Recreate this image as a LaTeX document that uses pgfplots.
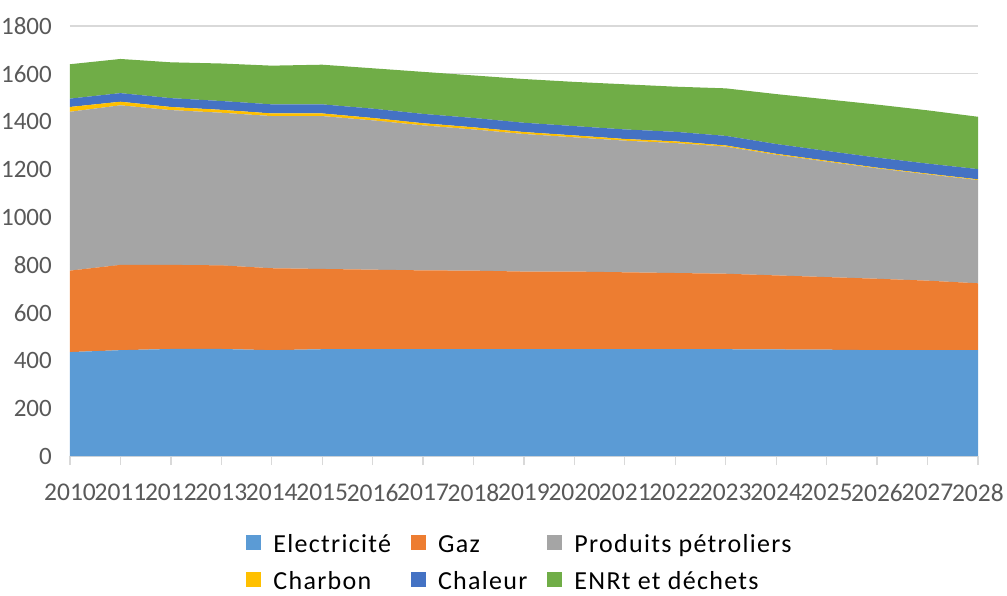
\documentclass[border=0pt]{standalone}
\usepackage{pgfplots}
\pgfplotsset{compat=1.18}
\usepackage{fontspec}
\setmainfont{Carlito}
\newfontfamily\legfont[LetterSpace=5]{Carlito}
\definecolor{cElec}{HTML}{5B9BD5}
\definecolor{cGaz}{HTML}{ED7D31}
\definecolor{cPet}{HTML}{A5A5A5}
\definecolor{cChar}{HTML}{FFC000}
\definecolor{cChal}{HTML}{4472C4}
\definecolor{cEnr}{HTML}{70AD47}
\definecolor{cGrid}{HTML}{D9D9D9}
\definecolor{cTxt}{HTML}{595959}
\begin{document}
\begin{tikzpicture}
\path[use as bounding box] (-70pt,-139pt) rectangle (937pt,456pt);
\begin{axis}[
  at={(0pt,0pt)}, anchor=south west,
  width=908pt, height=430pt, scale only axis,
  xmin=2010, xmax=2028, ymin=0, ymax=1800,
  stack plots=y,
  axis lines=left,
  x axis line style={draw=cGrid, line width=1.3pt, -},
  y axis line style={draw=none},
  xtick={2010,...,2028},
  xticklabels={2010,2011,2012,2013,2014,2015,2016,2017,2018,2019,2020,2021,2022,2023,2024,2025,2026,2027,2028},
  ytick={0,200,...,1800},
  /pgf/number format/1000 sep={},
  /pgf/number format/assume math mode=true,
  tick label style={font=\fontsize{25}{30}\selectfont, text=cTxt, inner sep=0pt},
  xticklabel style={anchor=north, yshift=-19pt, font=\fontsize{25.5}{30}\selectfont},
  yticklabel style={anchor=east, xshift=-9pt},
  x tick style={draw=cGrid, line width=1.3pt},
  y tick style={draw=none},
  major tick length=9pt,
  tick align=outside,
  xtick pos=bottom,
  ymajorgrids,
  grid style={draw=cGrid, line width=1.3pt},
  legend columns=3,
  legend cell align=left,
  legend style={at={(0.4945,-0.177)}, anchor=north, draw=none, fill=none,
    font=\legfont\fontsize{26}{30}\selectfont, text=black,
    nodes={inner sep=0pt, text height=18pt, text depth=0pt},
    row sep=19pt,
    /tikz/every odd column/.append style={column sep=12pt},
    /tikz/every even column/.append style={column sep=20pt}},
  legend image code/.code={\fill[#1] (0pt,-7pt) rectangle (15pt,8pt);},
]
\addplot[fill=cElec, draw=none] coordinates {
(2010,435)(2011,443)(2012,448)(2013,448)(2014,443)(2015,447)(2016,447)(2017,447)(2018,447)(2019,447)
(2020,447)(2021,447)(2022,447)(2023,447)(2024,446)(2025,445)(2026,443)(2027,443)(2028,443)} \closedcycle;
\addlegendentry{Electricité}
\addplot[fill=cGaz, draw=none] coordinates {
(2010,341)(2011,357)(2012,352)(2013,350)(2014,343)(2015,336)(2016,333)(2017,330)(2018,329)(2019,325)
(2020,325)(2021,322)(2022,319)(2023,316)(2024,310)(2025,304)(2026,299)(2027,291)(2028,280)} \closedcycle;
\addlegendentry{Gaz}
\addplot[fill=cPet, draw=none] coordinates {
(2010,665)(2011,668)(2012,648)(2013,639)(2014,637)(2015,640)(2016,625)(2017,607)(2018,591)(2019,576)
(2020,562)(2021,551)(2022,544)(2023,532)(2024,505)(2025,483)(2026,462)(2027,445)(2028,432)} \closedcycle;
\addlegendentry{Produits pétroliers}
\addplot[fill=cChar, draw=none] coordinates {
(2010,20)(2011,15)(2012,13)(2013,12)(2014,11)(2015,11)(2016,10)(2017,9)(2018,9)(2019,8)
(2020,8)(2021,7)(2022,7)(2023,5)(2024,4)(2025,4)(2026,3)(2027,3)(2028,3)} \closedcycle;
\addlegendentry{Charbon}
\addplot[fill=cChal, draw=none] coordinates {
(2010,35)(2011,36)(2012,37)(2013,37)(2014,38)(2015,38)(2016,39)(2017,39)(2018,39)(2019,39)
(2020,39)(2021,40)(2022,40)(2023,40)(2024,41)(2025,41)(2026,42)(2027,42)(2028,43)} \closedcycle;
\addlegendentry{Chaleur}
\addplot[fill=cEnr, draw=none] coordinates {
(2010,144)(2011,143)(2012,150)(2013,157)(2014,162)(2015,166)(2016,169)(2017,176)(2018,178)(2019,183)
(2020,185)(2021,189)(2022,189)(2023,199)(2024,209)(2025,216)(2026,222)(2027,223)(2028,219)} \closedcycle;
\addlegendentry{ENRt et déchets}
\end{axis}
\end{tikzpicture}
\end{document}
